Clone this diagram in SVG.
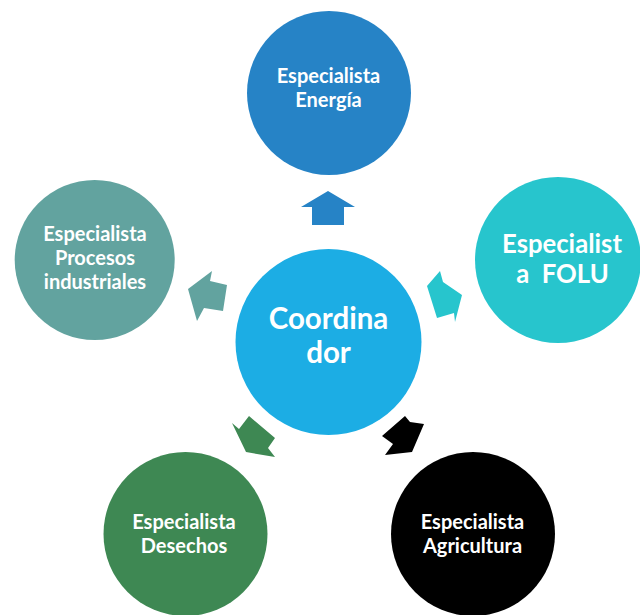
<svg xmlns="http://www.w3.org/2000/svg" width="640" height="615" viewBox="0 0 640 615">
<style>
.t{font-family:Lato,"Liberation Sans",sans-serif;font-weight:bold;fill:#FFFFFF;text-anchor:middle;white-space:pre}
.s{font-size:20px}
</style>
<rect width="640" height="615" fill="#FFFFFF"/>
<g id="connectors">
<polygon points="328,191 355,207 344,207 344,225 312,225 312,207 301,207" fill="#2683C6"/>
<polygon points="188,289 212,271 210,281 227,285 223,311 204,308 197,321" fill="#62A39F"/>
<polygon points="427,286 440,271 443,282 462,295 455,322 454,313 437,318" fill="#27C5CD"/>
<polygon points="232,423 239,429 249,416 275,438 268,448 275,457 246,452" fill="#3E8853"/>
<polygon points="382,436 405,416 410,422 424,424 412,452 385,455 393,444" fill="#000000"/>
</g>
<g id="coordinador">
<circle cx="328.5" cy="342" r="93" fill="#1CADE4"/>
<text class="t" x="328.5" y="329" font-size="29.5">Coordina</text>
<text class="t" x="328.5" y="363" font-size="29.5">dor</text>
</g>
<g id="energia">
<circle cx="329" cy="93" r="82" fill="#2683C6"/>
<text class="t s" x="328.5" y="83">Especialista</text>
<text class="t s" x="328.5" y="106.5">Energía</text>
</g>
<g id="folu">
<circle cx="558" cy="260" r="83" fill="#27C5CD"/>
<text class="t" x="562" y="253" font-size="25.7">Especialist</text>
<text class="t" x="562.5" y="283" font-size="25.7">a  FOLU</text>
</g>
<g id="procesos">
<circle cx="94.7" cy="260" r="80" fill="#62A39F"/>
<text class="t s" x="95" y="241">Especialista</text>
<text class="t s" x="95" y="265">Procesos</text>
<text class="t s" x="95" y="289">industriales</text>
</g>
<g id="desechos">
<circle cx="185.5" cy="534" r="82" fill="#3E8853"/>
<text class="t s" x="184" y="529">Especialista</text>
<text class="t s" x="184" y="553">Desechos</text>
</g>
<g id="agricultura">
<circle cx="473" cy="534" r="82" fill="#000000"/>
<text class="t s" x="472.5" y="529">Especialista</text>
<text class="t s" x="472.5" y="553">Agricultura</text>
</g>
</svg>
